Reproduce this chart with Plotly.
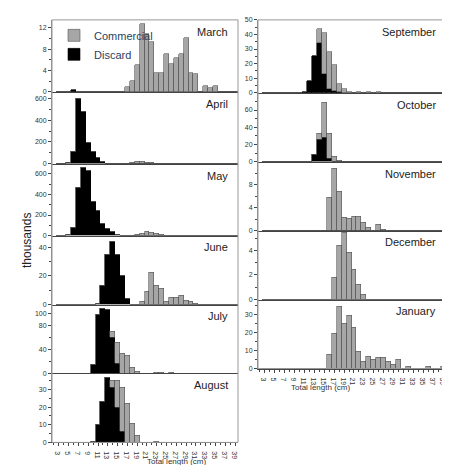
import plotly.graph_objects as go

lengths = list(range(3, 40))
tick_labels = [str(v) for v in range(3, 40, 2)]

march_d = {6: 0.4}
march_c = {17: 1, 18: 2, 19: 5, 20: 12.7, 21: 10.8, 22: 9.4, 23: 3.5, 24: 3.6, 25: 7.2, 26: 5.3,
           27: 6.4, 28: 7.1, 29: 10.2, 30: 3.5, 31: 3.4, 33: 1.1, 34: 0.7, 35: 1.1}
april_d = {5: 5, 6: 110, 7: 600, 8: 480, 9: 190, 10: 110, 11: 50, 12: 15}
april_c = {18: 5, 19: 15, 20: 20, 21: 12, 22: 5, 24: 3, 25: 3, 26: 3, 27: 3}
may_d = {5: 5, 6: 75, 7: 470, 8: 660, 9: 630, 10: 330, 11: 240, 12: 120, 13: 65, 14: 35, 15: 10}
may_c = {19: 5, 20: 15, 21: 35, 22: 30, 23: 15, 24: 5}
june_d = {11: 1, 12: 13, 13: 35, 14: 44, 15: 35, 16: 20, 17: 4}
june_c = {20: 2, 21: 9, 22: 22, 23: 13, 24: 11, 25: 2, 26: 5, 27: 5, 28: 6, 29: 2.5, 30: 2, 31: 1}
july_d = {10: 15, 11: 98, 12: 108, 13: 106, 14: 60, 15: 17}
july_c = {14: 10, 15: 35, 16: 33, 17: 30, 18: 10, 19: 3, 23: 2, 24: 2, 26: 1}
aug_d = {10: 0.5, 11: 10, 12: 23, 13: 37, 14: 31, 15: 20, 16: 6}
aug_c = {14: 4, 15: 15, 16: 25, 17: 22, 18: 11, 19: 4, 23: 0.5}
sep_d = {11: 0.5, 12: 8, 13: 25, 14: 34, 15: 13, 16: 3, 17: 1, 18: 0.5}
sep_c = {14: 10, 15: 28, 16: 25, 17: 18, 18: 5.5, 19: 3, 20: 0.5, 22: 0.3, 24: 0.5, 26: 0.5}
oct_d = {13: 8, 14: 26, 15: 28, 16: 3}
oct_c = {14: 7, 15: 40, 16: 29, 17: 6, 18: 1}
nov_d = {}
nov_c = {16: 5.8, 17: 10.7, 18: 6.8, 19: 2.3, 20: 2.1, 21: 2.4, 22: 2.4, 23: 1.4, 24: 0.6, 26: 1, 27: 0.2}
dec_d = {}
dec_c = {17: 1.8, 18: 4.4, 19: 5.4, 20: 3.8, 21: 2.4, 22: 1.2, 23: 0.4}
jan_d = {}
jan_c = {16: 7.5, 17: 19, 18: 34, 19: 24.5, 20: 29, 21: 22.5, 22: 9.5, 23: 4, 24: 6.5, 25: 5,
         26: 6, 27: 6, 28: 4, 29: 2, 30: 5, 32: 1, 36: 1, 39: 1}

months = ["March", "April", "May", "June", "July", "August",
          "September", "October", "November", "December", "January"]
data = [(march_d, march_c), (april_d, april_c), (may_d, may_c), (june_d, june_c),
        (july_d, july_c), (aug_d, aug_c), (sep_d, sep_c), (oct_d, oct_c),
        (nov_d, nov_c), (dec_d, dec_c), (jan_d, jan_c)]
yranges = [13.5, 660, 700, 48, 115, 39, 50, 80, 12, 5.6, 38]
ytickvals = [[0, 4, 8, 12], [0, 200, 400, 600], [0, 200, 400, 600], [0, 20, 40],
             [0, 40, 80, 100], [0, 10, 20, 30], [0, 10, 20, 30, 40, 50], [0, 20, 40, 60],
             [0, 4, 8], [0, 2, 4], [0, 10, 20, 30]]
yminor = [2, 100, 100, 10, 20, 5, 5, 10, 2, 1, 5]

W, H = 450, 465
left_px = [(8, 81), (81, 154), (154, 227), (227, 297), (297, 367), (367, 437)]
right_px = [(8, 82), (82, 152), (152, 222), (222, 292), (292, 362)]
panel_px = [((44, 230), p) for p in left_px] + [((250, 438), p) for p in right_px]

fig = go.Figure()
layout = {}
for i, (m, (d, c)) in enumerate(zip(months, data)):
    n = i + 1
    xa = "x" if n == 1 else f"x{n}"
    ya = "y" if n == 1 else f"y{n}"
    cv = [c.get(L, 0) for L in lengths]
    dv = [d.get(L, 0) for L in lengths]
    fig.add_bar(x=lengths, y=dv, xaxis=xa, yaxis=ya, width=1, name="Discard",
                marker=dict(color="black", line=dict(color="black", width=0.6)),
                showlegend=(n == 1), legendrank=1)
    fig.add_bar(x=lengths, y=cv, xaxis=xa, yaxis=ya, width=1, name="Commercial",
                marker=dict(color="#a6a6a6", line=dict(color="#555", width=0.6)),
                showlegend=(n == 1), legendrank=2)
    (x0, x1), (y0, y1) = panel_px[i]
    last = (i == 5 or i == 10)
    kx = "xaxis" if n == 1 else f"xaxis{n}"
    ky = "yaxis" if n == 1 else f"yaxis{n}"
    layout[kx] = dict(domain=[x0 / W, x1 / W], anchor=ya, range=[1.6, 39.6],
                      tickvals=list(range(3, 40, 2)), ticktext=tick_labels,
                      showticklabels=last, ticks="outside" if last else "", ticklen=3,
                      tickfont=dict(size=7, color="#333"), showgrid=False, zeroline=False,
                      showline=True, linecolor="#444", linewidth=1,
                      minor=dict(dtick=1, ticks="outside" if last else "", ticklen=2))
    layout[ky] = dict(domain=[1 - y1 / H, 1 - y0 / H], anchor=xa, range=[0, yranges[i]],
                      tickvals=ytickvals[i], ticks="outside", ticklen=3,
                      tickfont=dict(size=7, color="#333"), showgrid=False, zeroline=False,
                      showline=True, linecolor="#888", linewidth=1,
                      minor=dict(dtick=yminor[i], ticks="outside", ticklen=2))
    fig.add_annotation(text=m, xref="paper", yref="paper", x=(x1 - 8) / W, y=1 - (y0 + 12) / H,
                       xanchor="right", yanchor="middle", showarrow=False,
                       font=dict(size=11, color="#222"))
    if last:
        fig.add_annotation(text="Total length (cm)", xref="paper", yref="paper",
                           x=(x0 + x1) / 2 / W, y=1 - (y1 + 19) / H, yanchor="middle",
                           showarrow=False, font=dict(size=8, color="#333"))

for (x0, x1, y0, y1) in [(44, 230, 8, 437), (250, 438, 8, 362)]:
    fig.add_shape(type="rect", xref="paper", yref="paper", x0=x0 / W, x1=x1 / W,
                  y0=1 - y1 / H, y1=1 - y0 / H, line=dict(color="#999", width=1))

fig.add_annotation(text="thousands", xref="paper", yref="paper", x=10 / W, y=0.5,
                   textangle=-90, showarrow=False, font=dict(size=12, color="#222"))

fig.update_layout(width=W, height=H, margin=dict(l=0, r=0, t=0, b=0), barmode="stack",
                  bargap=0, plot_bgcolor="white", paper_bgcolor="white",
                  font=dict(family="Liberation Sans, Arial"),
                  legend=dict(x=46 / W, y=1 - 9 / H, xanchor="left", yanchor="top",
                              bgcolor="rgba(0,0,0,0)", font=dict(size=11),
                              tracegroupgap=0, itemwidth=30),
                  **layout)
fig.write_html("out.html")
